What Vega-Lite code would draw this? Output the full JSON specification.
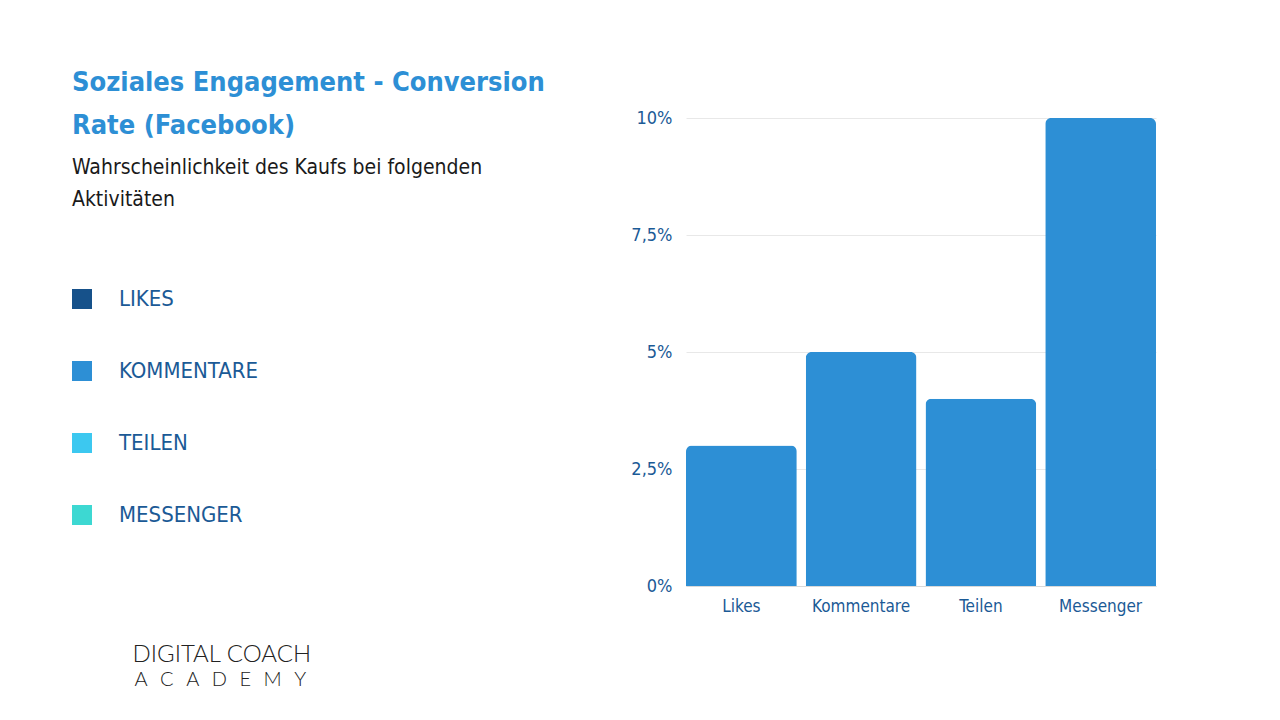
{
  "$schema": "https://vega.github.io/schema/vega-lite/v6.json",
  "autosize": {"type": "none"},
  "padding": {"left": 686, "top": 118, "right": 124, "bottom": 134},
  "width": 470,
  "height": 468,
  "background": "white",
  "title": {
    "text": ["Soziales Engagement - Conversion", "Rate (Facebook)"],
    "subtitle": ["Wahrscheinlichkeit des Kaufs bei folgenden", "Aktivitäten"],
    "anchor": "start",
    "frame": "group",
    "dx": -614,
    "dy": 102,
    "offset": 0,
    "font": "DejaVu Sans Condensed, sans-serif",
    "fontSize": 27,
    "fontWeight": "bold",
    "color": "#2D8FD5",
    "lineHeight": 43,
    "subtitleFont": "DejaVu Sans Condensed, sans-serif",
    "subtitleFontSize": 21,
    "subtitleColor": "#1a1a1a",
    "subtitleLineHeight": 32,
    "subtitlePadding": 17
  },
  "data": {
    "values": [
      {"aktivitaet": "Likes", "legende": "LIKES", "rate": 3},
      {"aktivitaet": "Kommentare", "legende": "KOMMENTARE", "rate": 5},
      {"aktivitaet": "Teilen", "legende": "TEILEN", "rate": 4},
      {"aktivitaet": "Messenger", "legende": "MESSENGER", "rate": 10}
    ]
  },
  "encoding": {
    "x": {
      "field": "aktivitaet",
      "type": "nominal",
      "sort": null,
      "scale": {"paddingInner": 0.075, "paddingOuter": 0},
      "axis": {
        "title": "DIGITAL COACH",
        "titleX": -554,
        "titleY": 75,
        "titleAlign": "left",
        "titleBaseline": "alphabetic",
        "titleFont": "Lato",
        "titleFontWeight": 300,
        "titleFontSize": 24,
        "titleColor": "#222222",
        "labelAngle": 0,
        "labelFontSize": 17,
        "labelColor": "#1B5A96",
        "labelFont": "DejaVu Sans Condensed, sans-serif",
        "labelPadding": 12,
        "ticks": false,
        "domainColor": "#d9d9d9"
      }
    },
    "y": {
      "field": "rate",
      "type": "quantitative",
      "scale": {"domain": [0, 10], "nice": false},
      "axis": {
        "title": "A\u2002\u2009C\u2002\u2009A\u2002\u2009D\u2002\u2009E\u2002\u2009M\u2002\u2009Y",
        "titleAngle": 0,
        "titleX": -552,
        "titleY": 567,
        "titleAlign": "left",
        "titleBaseline": "alphabetic",
        "titleFont": "Lato",
        "titleFontWeight": 300,
        "titleFontSize": 20,
        "titleColor": "#222222",
        "values": [0, 2.5, 5, 7.5, 10],
        "labelExpr": "replace(format(datum.value, '.1~f'), '.', ',') + '%'",
        "labelFontSize": 18,
        "labelColor": "#1B5A96",
        "labelFont": "DejaVu Sans Condensed, sans-serif",
        "labelPadding": 14,
        "ticks": false,
        "domain": false,
        "grid": true,
        "gridColor": "#e8e8e8"
      }
    }
  },
  "layer": [
    {
      "mark": {"type": "bar", "color": "#2D8FD5", "cornerRadiusTopLeft": 6, "cornerRadiusTopRight": 6}
    },
    {
      "mark": {"type": "bar", "opacity": 0},
      "encoding": {
        "color": {
          "field": "legende",
          "type": "nominal",
          "scale": {
            "domain": ["LIKES", "KOMMENTARE", "TEILEN", "MESSENGER"],
            "range": ["#16518A", "#2D8FD5", "#3CC8F0", "#3DD8D2"]
          },
          "legend": {
            "title": null,
            "orient": "none",
            "legendX": -615,
            "legendY": 170,
            "symbolType": "square",
            "symbolSize": 400,
            "symbolOpacity": 1,
            "symbolStrokeWidth": 0,
            "labelFontSize": 22,
            "labelColor": "#1B5A96",
            "labelFont": "DejaVu Sans Condensed, sans-serif",
            "labelOffset": 26,
            "rowPadding": 50,
            "padding": 0
          }
        }
      }
    }
  ],
  "config": {"view": {"stroke": null}}
}
